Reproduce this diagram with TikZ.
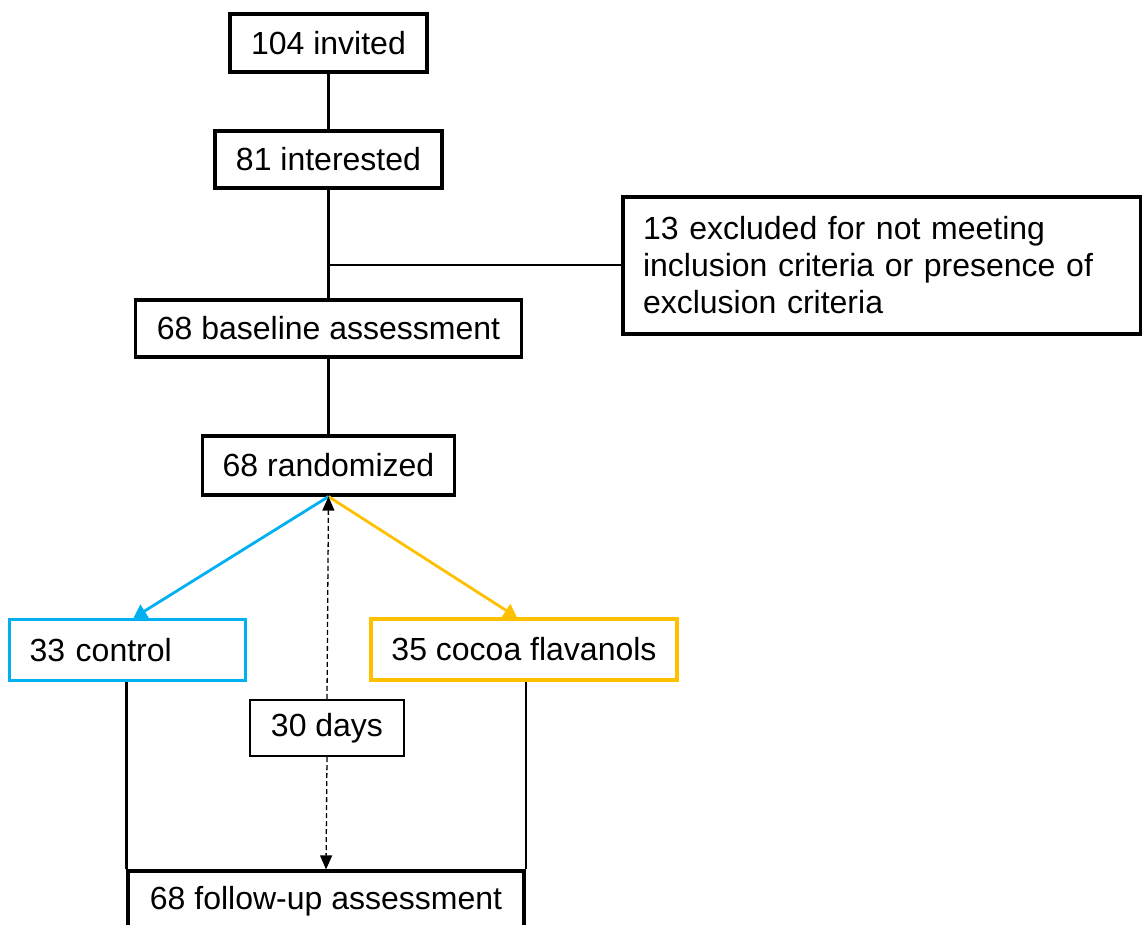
\documentclass[tikz,border=0pt]{standalone}
\usepackage{fontspec}
\setmainfont{Liberation Sans}
\usetikzlibrary{arrows.meta,calc}
\definecolor{ctlblue}{HTML}{00B0F0}
\definecolor{cocyel}{HTML}{FFC000}
\tikzset{
  box/.style={draw=black, line width=3.2pt, fill=white, inner sep=0pt, align=center,
    font=\fontsize{32}{37}\selectfont},
  conn/.style={line width=2.2pt, draw=black},
  arr/.style={line width=2.8pt, -{Triangle[width=15pt,length=13pt]}},
  darr/.style={line width=1.3pt, dash pattern=on 5pt off 3pt, -{Triangle[width=12pt,length=14pt]}}
}
\begin{document}
\begin{tikzpicture}[x=1pt,y=-1pt]
\clip (0,0) rectangle (1142,924);
\useasboundingbox (0,0) rectangle (1142,924);
\node[box, minimum width=197pt, minimum height=58pt] (inv) at (328.5,43) {104 invited};
\node[box, minimum width=227pt, minimum height=57pt] (int) at (328.5,159.5) {81 interested};
\node[box, minimum height=137pt, inner xsep=20pt, text width=478pt, align=left] (exc) at (882,265.5)
  {13 excluded for not meeting\\inclusion criteria or presence of\\exclusion criteria};
\node[box, minimum width=386pt, minimum height=57pt] (base) at (328.5,328.5) {68 baseline assessment};
\node[box, minimum width=252pt, minimum height=59pt] (rand) at (328.5,465.5) {68 randomized};
\node[box, draw=ctlblue, minimum height=61pt, inner xsep=20pt, text width=196pt, align=left] (ctl) at (127.5,650) {33 control};
\node[box, draw=cocyel, minimum width=306pt, minimum height=61pt] (coc) at (524,649.5) {35 cocoa flavanols};
\node[box, line width=2.4pt, minimum width=154pt, minimum height=56pt] (days) at (327,728) {30 days};
\node[box, minimum width=396pt, minimum height=60pt] (fol) at (326,901) {68 follow-up assessment};
\coordinate (j) at (328.5,265);
\draw[conn] (inv.south) -- (int.north);
\draw[conn] (int.south) -- (base.north);
\draw[conn] (j) -- (exc.west |- j);
\draw[conn] (base.south) -- (rand.north);
\draw[arr, ctlblue] (rand.south) -- ([xshift=6pt]ctl.north);
\draw[arr, cocyel] (rand.south) -- ([xshift=-7pt]coc.north);
\draw[darr] (days.north) -- (rand.south);
\draw[darr] (days.south) -- (fol.north);
\draw[conn] (ctl.south -| fol.west) -- (fol.north west);
\draw[conn] (coc.south -| fol.east) -- (fol.north east);
\end{tikzpicture}
\end{document}
